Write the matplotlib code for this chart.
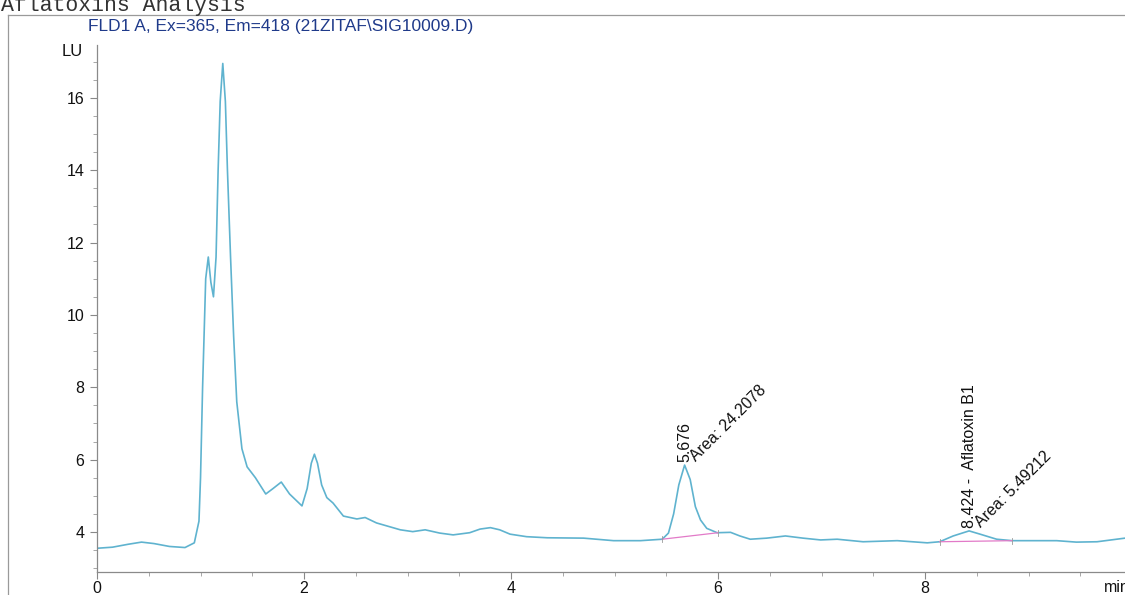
import matplotlib
matplotlib.use("Agg")
import matplotlib.pyplot as plt
from matplotlib.lines import Line2D
from matplotlib.ticker import MultipleLocator

plt.rcParams['font.family'] = ['Liberation Sans', 'DejaVu Sans']

# Fluorescence detector trace (retention time in min, signal in LU)
time_min = [0.00, 0.15, 0.30, 0.43, 0.55, 0.70, 0.85, 0.94, 0.985, 1.00,
            1.02, 1.05, 1.075, 1.10, 1.125, 1.15, 1.17, 1.19, 1.215, 1.24,
            1.26, 1.29, 1.32, 1.35, 1.40, 1.45, 1.53, 1.63, 1.70, 1.78,
            1.86, 1.98, 2.03, 2.07, 2.10, 2.13, 2.17, 2.22, 2.28, 2.38,
            2.51, 2.59, 2.70, 2.93, 3.05, 3.17, 3.31, 3.44, 3.60, 3.70,
            3.80, 3.89, 3.99, 4.15, 4.35, 4.70, 4.99, 5.25, 5.46, 5.52,
            5.57, 5.62, 5.676, 5.73, 5.78, 5.83, 5.89, 5.99, 6.12, 6.21,
            6.31, 6.47, 6.65, 6.82, 6.99, 7.15, 7.40, 7.73, 8.02, 8.14,
            8.27, 8.424, 8.53, 8.69, 8.84, 9.01, 9.27, 9.46, 9.66, 9.93]
signal_lu = [3.55, 3.58, 3.66, 3.72, 3.68, 3.60, 3.57, 3.70, 4.30, 5.50,
             8.00, 11.00, 11.60, 10.90, 10.50, 11.60, 14.00, 15.90, 16.95, 15.90,
             14.00, 11.60, 9.40, 7.60, 6.30, 5.80, 5.50, 5.05, 5.20, 5.38,
             5.05, 4.72, 5.20, 5.90, 6.15, 5.90, 5.30, 4.95, 4.80, 4.44,
             4.36, 4.40, 4.25, 4.06, 4.01, 4.06, 3.97, 3.92, 3.98, 4.08,
             4.12, 4.06, 3.94, 3.87, 3.84, 3.83, 3.76, 3.76, 3.80, 3.97,
             4.50, 5.30, 5.85, 5.45, 4.70, 4.33, 4.10, 3.98, 3.99, 3.89,
             3.80, 3.83, 3.89, 3.83, 3.78, 3.80, 3.73, 3.76, 3.70, 3.73,
             3.89, 4.03, 3.94, 3.80, 3.76, 3.76, 3.76, 3.72, 3.73, 3.83]

# Integrated peaks
peak_rt = [5.676, 8.424]
peak_height = [5.85, 4.03]
peak_name = ["5.676", "8.424 -  Aflatoxin B1"]
peak_area = ["Area: 24.2078", "Area: 5.49212"]
base_start = [(5.46, 3.80), (8.14, 3.73)]
base_end = [(6.00, 3.98), (8.84, 3.76)]

x_ticks = [0, 2, 4, 6, 8]
y_ticks = [4, 6, 8, 10, 12, 14, 16]

W, H = 1125, 595
fig = plt.figure(figsize=(W / 100, H / 100), dpi=100)
ax = fig.add_axes([97 / W, 1 - 572 / H, 1 - 97 / W, (572 - 45) / H])

trace_color = '#5fb3cf'
ax.plot(time_min, signal_lu, color=trace_color, lw=1.2, solid_joinstyle='round')

for (x0, y0), (x1, y1) in zip(base_start, base_end):
    ax.plot([x0, x1], [y0, y1], color='#e27ac8', lw=0.9)
    for xx, yy in ((x0, y0), (x1, y1)):
        ax.plot([xx, xx], [yy - 0.08, yy + 0.08], color='#9a9a9a', lw=0.6)

for rt, h, name, area in zip(peak_rt, peak_height, peak_name, peak_area):
    ax.text(rt, h + 0.08, name, rotation=90, ha='center', va='bottom',
            fontsize=11.5, color='#111111')
    ax.text(rt + 0.03, h + 0.02, area, rotation=45, ha='left', va='bottom',
            fontsize=11.5, color='#111111')

ax.set_xlim(0, 9.93)
ax.set_ylim(2.894, 17.46)
ax.set_xticks(x_ticks)
ax.set_yticks(y_ticks)
ax.xaxis.set_minor_locator(MultipleLocator(0.5))
ax.yaxis.set_minor_locator(MultipleLocator(0.5))
ax.tick_params(which='major', length=5, width=0.8, color='#888888',
               labelsize=11.5, labelcolor='#111111', pad=4)
ax.tick_params(axis='x', which='major', pad=1.5)
ax.tick_params(which='minor', length=3, width=0.6, color='#999999')
for side in ('top', 'right'):
    ax.spines[side].set_visible(False)
for side in ('left', 'bottom'):
    ax.spines[side].set_color('#8a8a8a')
    ax.spines[side].set_linewidth(0.9)

# Page frame and header texts
fig.add_artist(Line2D([8 / W, 8 / W], [0, 1 - 15 / H], transform=fig.transFigure,
                      color='#9a9a9a', lw=0.9))
fig.add_artist(Line2D([8 / W, 1], [1 - 15 / H, 1 - 15 / H], transform=fig.transFigure,
                      color='#9a9a9a', lw=0.9))
fig.text(1 / W, 1 - 11 / H, "Aflatoxins Analysis", family='Liberation Mono',
         fontsize=15.5, color='#333333', ha='left', va='baseline')
fig.text(88 / W, 1 - 27 / H, "FLD1 A, Ex=365, Em=418 (21ZITAF\\SIG10009.D)",
         fontsize=12.5, color='#1f3a8a', ha='left', va='center')
fig.text(62 / W, 1 - 52 / H, "LU", fontsize=12, color='#111111',
         ha='left', va='center')
fig.text(1104 / W, 1 - 588 / H, "min", fontsize=11.5, color='#111111',
         ha='left', va='center')

fig.savefig("out.png", dpi=100)
